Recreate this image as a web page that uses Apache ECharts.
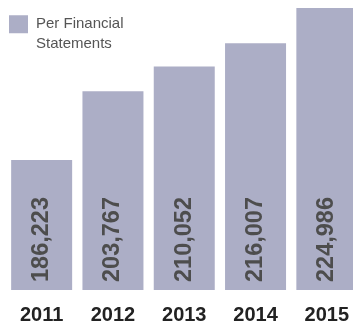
<!DOCTYPE html>
<html><head><meta charset="utf-8">
<script src="https://cdn.jsdelivr.net/npm/echarts@6/dist/echarts.min.js"></script>
<style>html,body{margin:0;padding:0;background:#fff}#c{width:353px;height:322px}</style>
</head><body><div id="c"></div>
<script>
const categories = ['2011', '2012', '2013', '2014', '2015'];
const values = [186223, 203767, 210052, 216007, 224986];
const seriesName = 'Per Financial\nStatements';

const chart = echarts.init(document.getElementById('c'), null, {renderer: 'canvas'});
chart.setOption({
  animation: false,
  textStyle: {fontFamily: 'Liberation Sans, Arial, sans-serif'},
  legend: {
    left: 9, top: -5, padding: 0,
    itemWidth: 19, itemHeight: 18, itemGap: 7,
    icon: 'rect',
    data: [seriesName],
    formatter: name => '{t|}\n' + name.split('\n').map(s => '{t|' + s + '}').join('\n'),
    textStyle: {
      fontSize: 15, color: '#555', lineHeight: 19.5, fontFamily: 'Liberation Sans, Arial, sans-serif',
      rich: {t: {fontSize: 15, color: '#555', lineHeight: 19.5, padding: [0, 0, 0, 3], fontFamily: 'Liberation Sans, Arial, sans-serif'}}
    }
  },
  grid: {left: 6, top: 8, width: 356.5, bottom: 32, containLabel: false, outerBoundsMode: 'none'},
  xAxis: {
    type: 'category', data: categories,
    axisLine: {show: false}, axisTick: {show: false},
    axisLabel: {fontSize: 20, fontWeight: 'bold', color: '#222', margin: 15, fontFamily: 'Liberation Sans, Arial, sans-serif'}
  },
  yAxis: {type: 'value', min: 153000, max: 225000, show: false, splitLine: {show: false}},
  series: [{
    name: seriesName, type: 'bar', data: values,
    barWidth: 61,
    itemStyle: {color: '#acaec6'},
    label: {
      show: true, position: 'insideBottom', rotate: 90, align: 'left', verticalAlign: 'middle',
      distance: 8,
      formatter: p => p.value.toLocaleString('en-US'),
      fontSize: 23.5, fontWeight: 'bold', color: '#4d4d4d', fontFamily: 'Liberation Sans, Arial, sans-serif'
    }
  }]
});
</script></body></html>
